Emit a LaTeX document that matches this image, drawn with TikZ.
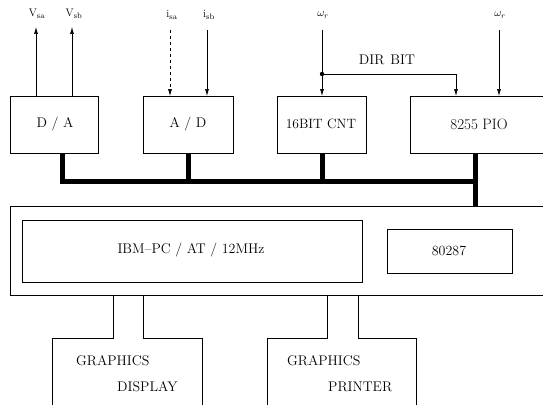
\documentclass[tikz,border=0pt]{standalone}
\usetikzlibrary{arrows.meta}
\begin{document}
\begin{tikzpicture}[x=1pt,y=-1pt,
  blk/.style={draw,line width=0.8pt},
  lbl/.style={font=\fontsize{14}{16}\selectfont,inner sep=0pt},
  sig/.style={font=\fontsize{11}{13}\selectfont,inner sep=0pt},
  bus/.style={line width=5pt},
  conn/.style={line width=0.7pt},
  arr/.style={conn,-{Latex[length=7pt,width=4pt]}}]
\useasboundingbox (0,0) rectangle (543,404);
\clip (0,0) rectangle (543,404);
% top boxes
\draw[blk] (10,96) rectangle (98,153);
\node[lbl] (da) at (55,124) {D / A};
\draw[blk] (143,96) rectangle (233,153);
\node[lbl] (ad) at (188,124) {A / D};
\draw[blk] (277,96) rectangle (366,153);
\node[lbl,font=\fontsize{13.5}{15}\selectfont] (cnt) at (321,124) {16BIT CNT};
\draw[blk] (410,96) rectangle (560,153);
\node[lbl,font=\fontsize{15}{17}\selectfont] (pio) at (479,124) {8255 PIO};
% signals
\node[sig] (vsa) at (37,14) {V$_{\mathrm{sa}}$};
\node[sig] (vsb) at (74,14) {V$_{\mathrm{sb}}$};
\node[sig] (isa) at (172,15) {i$_{\mathrm{sa}}$};
\node[sig] (isb) at (209,15) {i$_{\mathrm{sb}}$};
\node[sig] (w1) at (323,15) {$\omega_r$};
\node[sig] (w2) at (500,15) {$\omega_r$};
\node[lbl] (dir) at (387,60) {DIR\hspace{6pt}BIT};
\coordinate (dot) at (322,74);
\draw[arr] (36,96) -- (36,27);
\draw[arr] (72,96) -- (72,27);
\draw[arr,dashed] (170,30) -- (170,96);
\draw[arr] (207,30) -- (207,96);
\draw[conn] (322,30) -- (dot);
\draw[arr] (dot) -- (322,96);
\draw[arr] (dot) -- (456,74) -- (456,96);
\fill (dot) circle (2.2pt);
\draw[arr] (499,30) -- (499,96);
% bus
\draw[bus] (62,153) -- (62,181.5) -- (475,181.5);
\draw[bus] (188,153) -- (188,181.5);
\draw[bus] (322,153) -- (322,181.5);
\draw[bus] (475,153) -- (475,206);
% PC
\draw[blk] (10,206) rectangle (560,295);
\draw[blk] (22,220) rectangle (362,282);
\node[lbl] (pc) at (191,250) {IBM--PC / AT / 12MHz};
\draw[blk] (387,229) rectangle (512,273);
\node[lbl] (fpu) at (449,251) {80287};
% peripherals
\draw[blk] (113,295) -- (113,338) -- (52,338) -- (52,410);
\draw[blk] (143,295) -- (143,338) -- (202,338) -- (202,410);
\node[lbl,anchor=west] (g1) at (76,361) {GRAPHICS};
\node[lbl,anchor=west] (d1) at (117,387) {DISPLAY};
\draw[blk] (327,295) -- (327,338) -- (267,338) -- (267,410);
\draw[blk] (358,295) -- (358,338) -- (416,338) -- (416,410);
\node[lbl,anchor=west] (g2) at (287,361) {GRAPHICS};
\node[lbl,anchor=west] (p2) at (328,387) {PRINTER};
\end{tikzpicture}
\end{document}
